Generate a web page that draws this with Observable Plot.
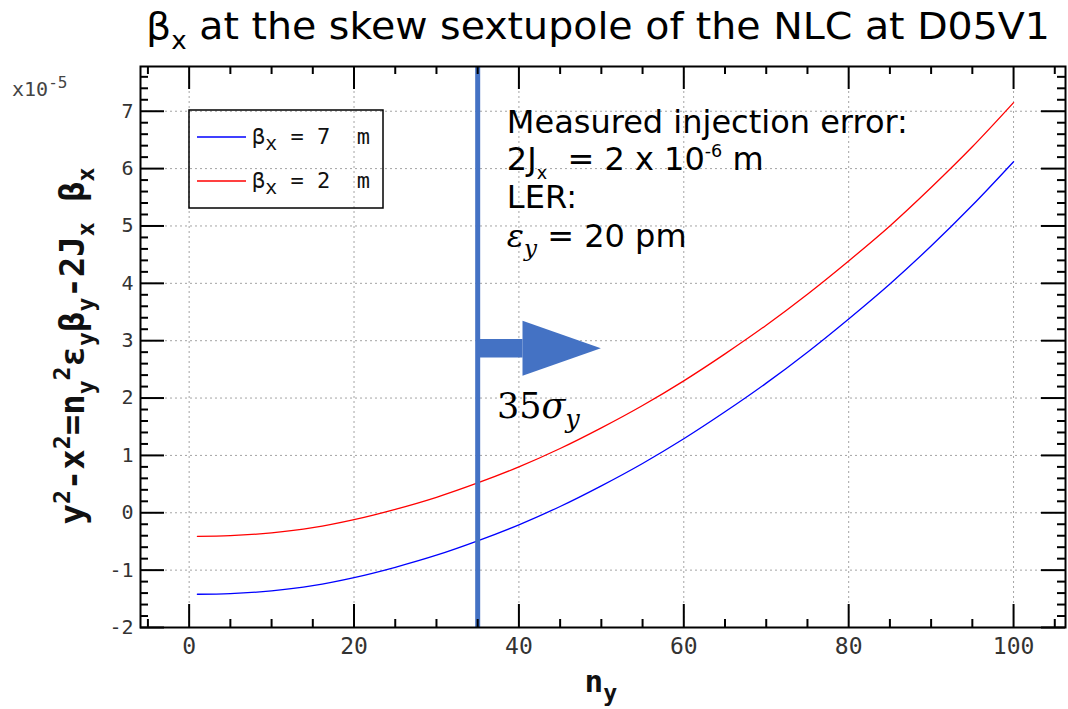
<!DOCTYPE html>
<html><head><meta charset="utf-8">
<script src="https://cdn.jsdelivr.net/npm/d3@7"></script>
<script src="https://cdn.jsdelivr.net/npm/@observablehq/plot@0.6"></script>
<style>
html,body{margin:0;padding:0;background:#fff;}
body{width:1068px;height:709px;overflow:hidden;position:relative;}
#title{height:55px;position:relative;}
#title span{position:absolute;left:146px;top:4px;font-family:"DejaVu Sans",Verdana,sans-serif;font-size:38px;color:#000;white-space:nowrap;transform-origin:0 0;}
#title sub{font-size:0.66em;vertical-align:-0.4em;line-height:0;}
#chart svg{display:block;}
</style></head><body>
<div id="title"><span id="ttl">β<sub>x</sub> at the skew sextupole of the NLC at D05V1</span></div>
<div id="chart"></div>
<script>
// ---- data ----
const nY = [1, 5, 10, 15, 20, 25, 30, 35, 40, 45, 50, 55, 60, 65, 70, 75, 80, 85, 90, 95, 100];
const betaX7 = [-1.42, -1.41, -1.36, -1.27, -1.13, -0.95, -0.74, -0.49, -0.21, 0.11, 0.47, 0.86, 1.29, 1.76, 2.26, 2.80, 3.38, 3.99, 4.65, 5.36, 6.12];
const betaX2 = [-0.41, -0.40, -0.35, -0.26, -0.12, 0.06, 0.27, 0.52, 0.80, 1.12, 1.48, 1.87, 2.30, 2.77, 3.27, 3.81, 4.39, 5.00, 5.67, 6.38, 7.15];
const seriesNames = ["βx = 7 m", "βx = 2 m"];
const seriesColors = ["#0000ff", "#ff0000"];
const xTickValues = [0, 20, 40, 60, 80, 100];
const xTickLabels = ["0", "20", "40", "60", "80", "100"];
const yTickValues = [-2, -1, 0, 1, 2, 3, 4, 5, 6, 7];
const yTickLabels = ["-2", "-1", "0", "1", "2", "3", "4", "5", "6", "7"];
const cutN = 35;            // 35 sigma_y marker
const arrowStartN = 35, arrowNeckN = 40.5, arrowTipN = 50;
const arrowCenter = 2.86, arrowHalfBar = 0.16, arrowHalfHead = 0.48;

// ---- layout ----
const W = 1068, H = 654, mT = 11, mB = 82, mL = 140, mR = 3;
const innerW = W - mL - mR, innerH = H - mT - mB;
const blueMark = "#4472C4";
const mono = "'DejaVu Sans Mono', monospace";

const rows = nY.flatMap((n, i) => [
  {n, v: betaX7[i], s: seriesNames[0]},
  {n, v: betaX2[i], s: seriesNames[1]}
]);
const xMinor = d3.range(-5, 106, 5).filter(v => !xTickValues.includes(v));
const yMinor = d3.range(-20, 78, 2).map(v => v / 10).filter(v => !yTickValues.includes(v));
const arrowBar = [
  {n: arrowStartN, lo: arrowCenter - arrowHalfBar, hi: arrowCenter + arrowHalfBar},
  {n: arrowNeckN, lo: arrowCenter - arrowHalfBar, hi: arrowCenter + arrowHalfBar}
];
const arrowHead = [
  {n: arrowNeckN, lo: arrowCenter - arrowHalfHead, hi: arrowCenter + arrowHalfHead},
  {n: arrowTipN, lo: arrowCenter, hi: arrowCenter}
];
const gridStyle = {stroke: "#9a9a9a", strokeOpacity: 0.9, strokeDasharray: "2,3", strokeWidth: 1};
const tickStyle = {stroke: "#000", strokeWidth: 2};

const plot = Plot.plot({
  width: W, height: H,
  marginTop: mT, marginBottom: mB, marginLeft: mL, marginRight: mR,
  style: {fontFamily: mono, fontSize: "20px", background: "#fff", color: "#000"},
  x: {domain: [-5.9, 106.3], label: null, axis: null},
  y: {domain: [-2, 7.78], label: null, axis: null},
  color: {domain: seriesNames, range: seriesColors},
  marks: [
    Plot.gridX(xTickValues, gridStyle),
    Plot.gridY(yTickValues, gridStyle),
    Plot.line(rows, {x: "n", y: "v", z: "s", stroke: "s", strokeWidth: 1.3, curve: "catmull-rom"}),
    Plot.ruleX([cutN], {stroke: blueMark, strokeWidth: 5}),
    Plot.areaY(arrowBar, {x: "n", y1: "lo", y2: "hi", fill: blueMark}),
    Plot.areaY(arrowHead, {x: "n", y1: "lo", y2: "hi", fill: blueMark}),
    // inward ticks on all four sides
    Plot.tickX(xTickValues, {x: d => d, insetTop: innerH - 23, ...tickStyle}),
    Plot.tickX(xTickValues, {x: d => d, insetBottom: innerH - 23, ...tickStyle}),
    Plot.tickX(xMinor, {x: d => d, insetTop: innerH - 8, ...tickStyle}),
    Plot.tickX(xMinor, {x: d => d, insetBottom: innerH - 8, ...tickStyle}),
    Plot.tickY(yTickValues, {y: d => d, insetRight: innerW - 24, ...tickStyle}),
    Plot.tickY(yTickValues, {y: d => d, insetLeft: innerW - 24, ...tickStyle}),
    Plot.tickY(yMinor, {y: d => d, insetRight: innerW - 8, ...tickStyle}),
    Plot.tickY(yMinor, {y: d => d, insetLeft: innerW - 8, ...tickStyle}),
    Plot.frame({stroke: "#000", strokeWidth: 2}),
    // tick labels as text marks positioned by the scales
    Plot.text(xTickValues, {x: d => d, frameAnchor: "bottom", lineAnchor: "top", dy: 10,
      text: (d, i) => xTickLabels[i], fontSize: 23, fontFamily: mono, fill: "#333"}),
    Plot.text(yTickValues, {y: d => d, frameAnchor: "left", textAnchor: "end", dx: -7,
      text: (d, i) => yTickLabels[i], fontSize: 20, fontFamily: mono, fill: "#333"})
  ]
});
document.getElementById("chart").appendChild(plot);
const svg = d3.select(plot);

// fit title width
const ttl = document.getElementById("ttl");
const tw = ttl.getBoundingClientRect().width;
ttl.style.transform = `scaleX(${904 / tw})`;

// ---- rich text helper ----
const xs = plot.scale("x"), ys = plot.scale("y");
function rich(sel, parts, size, subScale = 0.68) {
  let cur = 0;
  for (const p of parts) {
    const [txt, kind, attrs] = p;
    const fs = kind === "n" ? size : size * subScale;
    const off = kind === "sub" ? size * 0.28 : kind === "sup" ? -size * 0.42 : 0;
    const ts = sel.append("tspan").attr("font-size", fs).attr("dy", off - cur).text(txt);
    if (attrs) for (const k in attrs) ts.attr(k, attrs[k]);
    cur = off;
  }
  return sel;
}
const g = svg.append("g").attr("text-anchor", "start").style("white-space", "pre");

// y axis label
rich(g.append("text")
    .attr("transform", `translate(84, ${346 - 55}) rotate(-90)`)
    .attr("text-anchor", "middle")
    .attr("font-family", mono)
    .attr("font-weight", "bold").attr("fill", "#111"),
  [["y","n"],["2","sup"],["-x","n"],["2","sup"],["=n","n"],["y","sub"],["2","sup"],["ε","n"],["y","sub"],["β","n"],["y","sub"],["-2J","n"],["x","sub"],[" β","n"],["x","sub"]], 34);

// x axis label
rich(g.append("text")
    .attr("x", xs.apply(50)).attr("y", 692 - 55)
    .attr("text-anchor", "middle")
    .attr("font-family", mono)
    .attr("font-weight", "bold").attr("fill", "#111"),
  [["n","n"],["y","sub"]], 31, 0.75);

// exponent label
rich(g.append("text")
    .attr("x", 12).attr("y", 96 - 55)
    .attr("font-family", mono)
    .attr("fill", "#444"),
  [["x10","n"],["-5","sup"]], 20, 0.8);

// legend
const lx = 189, ly = 110 - 55;
g.append("rect").attr("x", lx).attr("y", ly).attr("width", 194).attr("height", 98)
  .attr("fill", "none").attr("stroke", "#000").attr("stroke-width", 1.5);
seriesNames.forEach((name, i) => {
  const yy = ly + 27 + i * 44;
  g.append("line").attr("x1", lx + 8).attr("x2", lx + 57).attr("y1", yy).attr("y2", yy)
    .attr("stroke", seriesColors[i]).attr("stroke-width", 1.3);
  const val = name.match(/=\s*(\d+)/)[1];
  const t = g.append("text").attr("x", lx + 63).attr("y", yy + 7)
    .attr("font-family", mono).attr("fill", "#111");
  rich(t, [["β","n"],["x","sub"],[" = " + val + "  m","n"]], 22, 0.9);
});

// annotation block
const ax = xs.apply(38.6);
const af = "'DejaVu Sans', Verdana, sans-serif";
const ann = (yy) => g.append("text").attr("x", ax).attr("y", yy - 55).attr("font-family", af).attr("fill", "#000");
rich(ann(133), [["Measured injection error:","n"]], 32);
rich(ann(170), [["2J","n"],["x","sub"],["  = 2 x 10","n"],["-6","sup"],[" m","n"]], 32, 0.55);
rich(ann(208), [["LER:","n"]], 32);
rich(ann(247), [["ε","n",{"font-family":"'DejaVu Serif', serif","font-style":"italic"}],
                ["y","sub",{"font-family":"'DejaVu Serif', serif","font-style":"italic"}],
                [" = 20 pm","n"]], 32, 0.72);

// 35 sigma_y label
rich(g.append("text").attr("x", xs.apply(37.4)).attr("y", ys.apply(1.64))
    .attr("font-family", "'DejaVu Serif', serif").attr("fill", "#000"),
  [["35","n"],["σ","n",{"font-style":"italic"}],["y","sub",{"font-style":"italic"}]], 35, 0.72);
</script>
</body></html>
